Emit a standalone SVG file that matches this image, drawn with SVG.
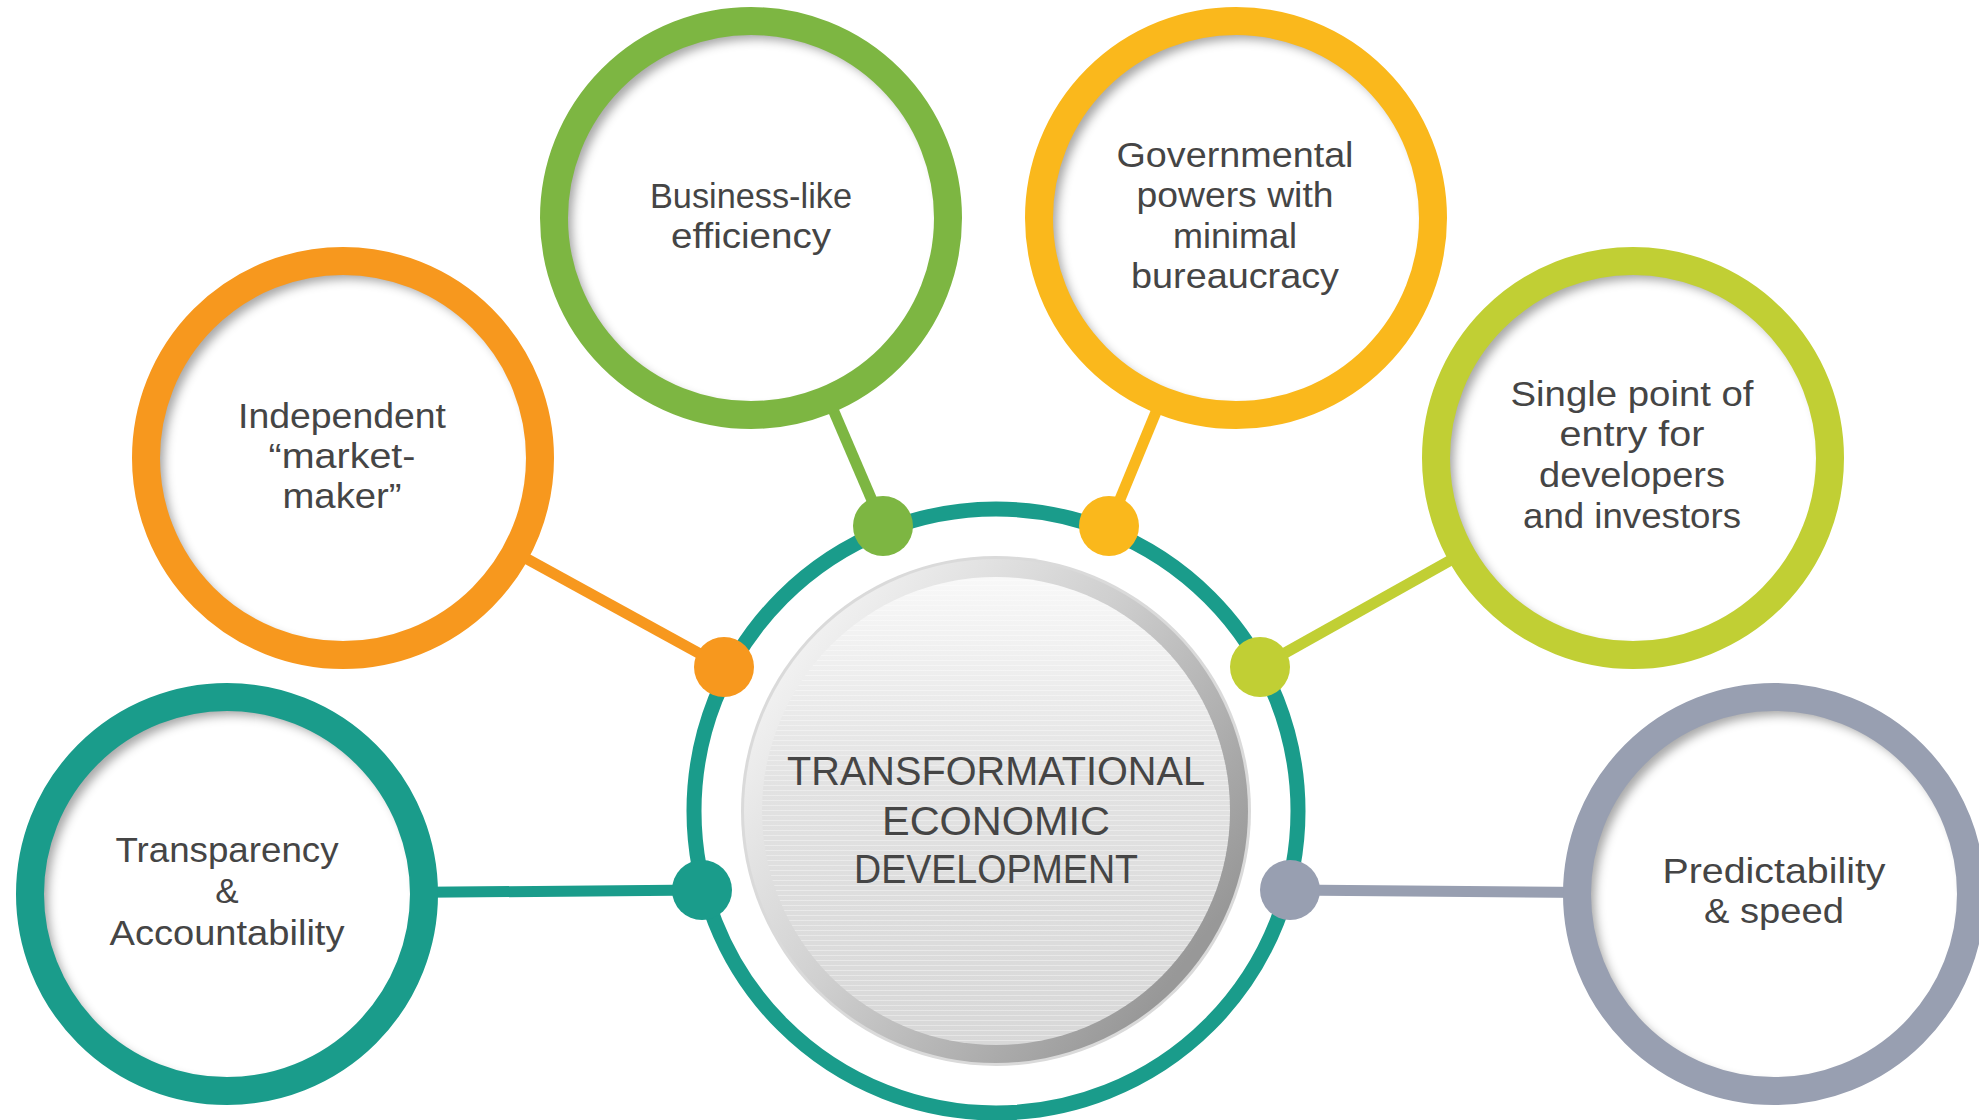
<svg xmlns="http://www.w3.org/2000/svg" width="1979" height="1120" viewBox="0 0 1979 1120">
<defs>
  <style>
    .lbl{font-family:"Liberation Sans",Arial,sans-serif;font-size:35px;fill:#454545;text-anchor:middle;}
    .ctr{font-family:"Liberation Sans",Arial,sans-serif;font-size:40px;fill:#454545;text-anchor:middle;}
    .disc{fill:#ffffff;filter:url(#inset);}
    .ring{fill:none;stroke-width:28;}
    .conn{stroke-width:11;fill:none;}
  </style>
  <filter id="inset" x="-20%" y="-20%" width="140%" height="140%">
    <feFlood flood-color="#000" flood-opacity="0.6" result="c"/>
    <feComposite in="c" in2="SourceAlpha" operator="out" result="inv"/>
    <feOffset in="inv" dx="6" dy="6" result="off"/>
    <feGaussianBlur in="off" stdDeviation="5" result="blur"/>
    <feComposite in="blur" in2="SourceAlpha" operator="in" result="shadow"/>
    <feMerge><feMergeNode in="SourceGraphic"/><feMergeNode in="shadow"/></feMerge>
  </filter>
  <linearGradient id="bezel" x1="0.15" y1="0.1" x2="0.95" y2="0.7">
    <stop offset="0" stop-color="#f2f2f2"/>
    <stop offset="0.45" stop-color="#cfcfcf"/>
    <stop offset="1" stop-color="#989898"/>
  </linearGradient>
  <linearGradient id="face" x1="0" y1="0" x2="0" y2="1">
    <stop offset="0" stop-color="#f8f8f8"/>
    <stop offset="0.45" stop-color="#e2e2e2"/>
    <stop offset="1" stop-color="#d8d8d8"/>
  </linearGradient>
  <pattern id="brush" width="6" height="5" patternUnits="userSpaceOnUse">
    <rect width="6" height="1" fill="#ffffff" opacity="0.35"/>
  </pattern>
</defs>
<rect width="1979" height="1120" fill="#ffffff"/>

<g id="center">
  <circle cx="996" cy="811" r="302" fill="none" stroke="#1A9C8B" stroke-width="15"/>
  <circle cx="996" cy="811" r="255" fill="#dadada"/>
  <circle cx="996" cy="811" r="252" fill="url(#bezel)"/>
  <circle cx="996" cy="811" r="234" fill="url(#face)"/>
  <circle cx="996" cy="811" r="234" fill="url(#brush)"/>
  <text class="ctr" x="996" y="785" textLength="418" lengthAdjust="spacingAndGlyphs">TRANSFORMATIONAL</text>
  <text class="ctr" x="996" y="835" textLength="228" lengthAdjust="spacingAndGlyphs">ECONOMIC</text>
  <text class="ctr" x="996" y="883" textLength="284" lengthAdjust="spacingAndGlyphs">DEVELOPMENT</text>
</g>

<g id="connectors">
  <line class="conn" x1="227" y1="894" x2="702" y2="890" stroke="#1A9C8B"/>
  <line class="conn" x1="343" y1="458" x2="724" y2="667" stroke="#F7981E"/>
  <line class="conn" x1="751" y1="218" x2="883" y2="526" stroke="#7DB642"/>
  <line class="conn" x1="1236" y1="218" x2="1109" y2="526" stroke="#FAB81C"/>
  <line class="conn" x1="1633" y1="458" x2="1260" y2="667" stroke="#C1CF34"/>
  <line class="conn" x1="1774" y1="894" x2="1290" y2="890" stroke="#989FB1"/>
  <circle cx="702" cy="890" r="30" fill="#1A9C8B"/>
  <circle cx="724" cy="667" r="30" fill="#F7981E"/>
  <circle cx="883" cy="526" r="30" fill="#7DB642"/>
  <circle cx="1109" cy="526" r="30" fill="#FAB81C"/>
  <circle cx="1260" cy="667" r="30" fill="#C1CF34"/>
  <circle cx="1290" cy="890" r="30" fill="#989FB1"/>
</g>

<g id="transparency">
  <circle class="disc" cx="227" cy="894" r="184"/>
  <circle class="ring" cx="227" cy="894" r="197" stroke="#1A9C8B"/>
  <text class="lbl" x="227" y="862" textLength="223" lengthAdjust="spacingAndGlyphs">Transparency</text>
  <text class="lbl" x="227" y="903">&amp;</text>
  <text class="lbl" x="227" y="945" textLength="235" lengthAdjust="spacingAndGlyphs">Accountability</text>
</g>

<g id="independent">
  <circle class="disc" cx="343" cy="458" r="184"/>
  <circle class="ring" cx="343" cy="458" r="197" stroke="#F7981E"/>
  <text class="lbl" x="342" y="428" textLength="208" lengthAdjust="spacingAndGlyphs">Independent</text>
  <text class="lbl" x="342" y="468" textLength="147" lengthAdjust="spacingAndGlyphs">“market-</text>
  <text class="lbl" x="342" y="508" textLength="119" lengthAdjust="spacingAndGlyphs">maker”</text>
</g>

<g id="business">
  <circle class="disc" cx="751" cy="218" r="184"/>
  <circle class="ring" cx="751" cy="218" r="197" stroke="#7DB642"/>
  <text class="lbl" x="751" y="208" textLength="202" lengthAdjust="spacingAndGlyphs">Business-like</text>
  <text class="lbl" x="751" y="248" textLength="160" lengthAdjust="spacingAndGlyphs">efficiency</text>
</g>

<g id="governmental">
  <circle class="disc" cx="1236" cy="218" r="184"/>
  <circle class="ring" cx="1236" cy="218" r="197" stroke="#FAB81C"/>
  <text class="lbl" x="1235" y="167" textLength="237" lengthAdjust="spacingAndGlyphs">Governmental</text>
  <text class="lbl" x="1235" y="207" textLength="197" lengthAdjust="spacingAndGlyphs">powers with</text>
  <text class="lbl" x="1235" y="248" textLength="124" lengthAdjust="spacingAndGlyphs">minimal</text>
  <text class="lbl" x="1235" y="288" textLength="208" lengthAdjust="spacingAndGlyphs">bureaucracy</text>
</g>

<g id="single">
  <circle class="disc" cx="1633" cy="458" r="184"/>
  <circle class="ring" cx="1633" cy="458" r="197" stroke="#C1CF34"/>
  <text class="lbl" x="1632" y="406" textLength="243" lengthAdjust="spacingAndGlyphs">Single point of</text>
  <text class="lbl" x="1632" y="446" textLength="145" lengthAdjust="spacingAndGlyphs">entry for</text>
  <text class="lbl" x="1632" y="487" textLength="186" lengthAdjust="spacingAndGlyphs">developers</text>
  <text class="lbl" x="1632" y="528" textLength="218" lengthAdjust="spacingAndGlyphs">and investors</text>
</g>

<g id="predictability">
  <circle class="disc" cx="1774" cy="894" r="184"/>
  <circle class="ring" cx="1774" cy="894" r="197" stroke="#989FB1"/>
  <text class="lbl" x="1774" y="883" textLength="223" lengthAdjust="spacingAndGlyphs">Predictability</text>
  <text class="lbl" x="1774" y="923" textLength="140" lengthAdjust="spacingAndGlyphs">&amp; speed</text>
</g>
</svg>
